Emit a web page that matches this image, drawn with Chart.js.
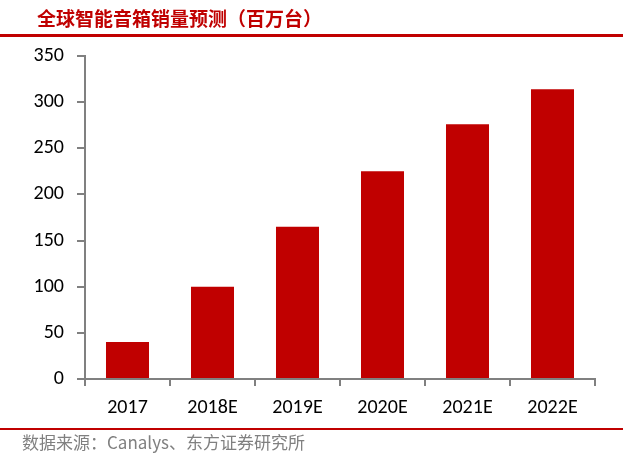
<!DOCTYPE html>
<html>
<head>
<meta charset="utf-8">
<script src="https://cdn.jsdelivr.net/npm/chart.js@4/dist/chart.umd.min.js"></script>
<style>
  html, body { margin: 0; padding: 0; background: #fff; }
  #wrap { position: relative; width: 623px; height: 461px; overflow: hidden; }
  #title { position: absolute; left: 37px; top: 5px; font-family: "Noto Sans CJK SC", sans-serif; font-weight: bold; font-size: 19px; line-height: 25px; color: #C00000; white-space: nowrap; }
  #topline { position: absolute; left: 0; top: 34px; width: 623px; height: 3px; background: #C00000; }
  #botline { position: absolute; left: 0; top: 428px; width: 623px; height: 2px; background: #C00000; }
  #source { position: absolute; left: 22px; top: 431px; font-family: "Noto Sans CJK SC", sans-serif; font-size: 17px; line-height: 22px; color: #808080; white-space: nowrap; }
  #c { position: absolute; left: 0; top: 0; }
</style>
</head>
<body>
<div id="wrap">
  <canvas id="c" width="623" height="461"></canvas>
  <div id="title">全球智能音箱销量预测（百万台）</div>
  <div id="topline"></div>
  <div id="botline"></div>
  <div id="source">数据来源：Canalys、东方证券研究所</div>
</div>
<script>
const categories = ["2017", "2018E", "2019E", "2020E", "2021E", "2022E"];
const salesValues = [40, 100, 165, 225, 276, 314];
const yTickMin = 0;
const yTickMax = 350;
const yTickStep = 50;

const chart = new Chart(document.getElementById('c'), {
  type: 'bar',
  data: {
    labels: categories,
    datasets: [{
      data: salesValues,
      backgroundColor: '#C00000',
      borderWidth: 0,
      categoryPercentage: 1.0,
      barPercentage: 0.506
    }]
  },
  options: {
    responsive: false,
    animation: false,
    devicePixelRatio: 1,
    layout: { padding: { left: 0, right: 28, top: 56, bottom: 0 } },
    plugins: { legend: { display: false }, tooltip: { enabled: false }, title: { display: false } },
    scales: {
      x: {
        afterFit: (s) => { s.height = 82; },
        grid: { offset: true, drawOnChartArea: false, drawTicks: true, tickLength: 7, color: '#808080', lineWidth: 2 },
        border: { display: true, color: '#808080', width: 2 },
        ticks: { color: '#000', padding: 10, font: { family: 'Carlito, Lato, sans-serif', size: 20 } }
      },
      y: {
        min: yTickMin,
        max: yTickMax,
        afterFit: (s) => { s.width = 85; },
        grid: { drawOnChartArea: false, drawTicks: true, tickLength: 8, color: '#808080', lineWidth: 2 },
        border: { display: true, color: '#808080', width: 2 },
        ticks: { stepSize: yTickStep, color: '#000', padding: 13, font: { family: 'Carlito, Lato, sans-serif', size: 20 } }
      }
    }
  }
});
</script>
</body>
</html>
